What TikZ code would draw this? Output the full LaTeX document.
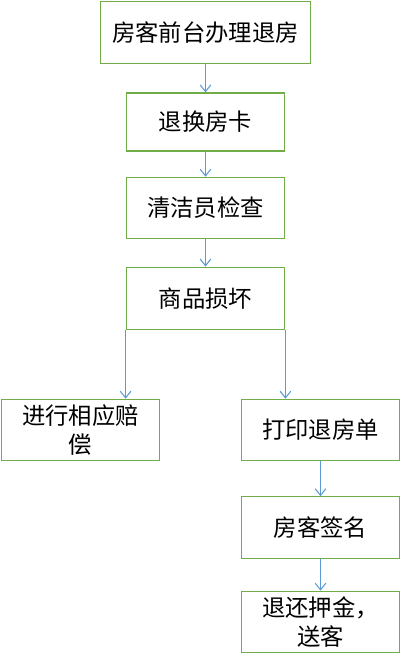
\documentclass[tikz,border=0pt]{standalone}
\usepackage{fontspec}
\setmainfont{Noto Sans CJK SC}
\usepackage{xcolor}
\usetikzlibrary{arrows.meta,positioning}

\definecolor{boxgreen}{HTML}{70AD47}
\definecolor{arrowblue}{HTML}{5B9BD5}

\begin{document}
\begin{tikzpicture}[x=0.75pt,y=-0.75pt,
  every node/.style={font=\fontsize{17.5}{21.5}\selectfont},
  flowbox/.style={draw=boxgreen,line width=0.9pt,rectangle,minimum width=119pt,minimum height=46pt,fill=white,align=center,inner sep=0pt},
  >={Straight Barb[length=5pt,width=8pt]}]

\useasboundingbox (0,0) rectangle (401,654);

% Main column
\node[flowbox,minimum width=158pt,minimum height=47pt] (checkout) at (205.5,32.5) {房客前台办理退房};
\node[flowbox,minimum height=43.5pt] (card) at (205.5,122) {退换房卡};
\node[flowbox] (inspect) at (205.5,208) {清洁员检查};
\node[flowbox,minimum height=47pt] (damage) at (205.5,298.5) {商品损坏};

% Left branch
\node[flowbox] (compensate) at (80.5,430) {进行相应赔\\偿};

% Right branch
\node[flowbox] (receipt) at (320.5,430) {打印退房单};
\node[flowbox] (sign) at (320.5,527.5) {房客签名};
\node[flowbox] (deposit) at (320.5,622) {退还押金，\\送客};

\draw[->,arrowblue,line width=0.8pt] (checkout) -- (card);
\draw[->,arrowblue,line width=0.8pt] (card) -- (inspect);
\draw[->,arrowblue,line width=0.8pt] (inspect) -- (damage);
\draw[->,arrowblue,line width=0.8pt] (damage.south west) -- (damage.south west |- compensate.north);
\draw[->,arrowblue,line width=0.8pt] (damage.south east) -- (damage.south east |- receipt.north);
\draw[->,arrowblue,line width=0.8pt] (receipt) -- (sign);
\draw[->,arrowblue,line width=0.8pt] (sign) -- (deposit);

\end{tikzpicture}
\end{document}
